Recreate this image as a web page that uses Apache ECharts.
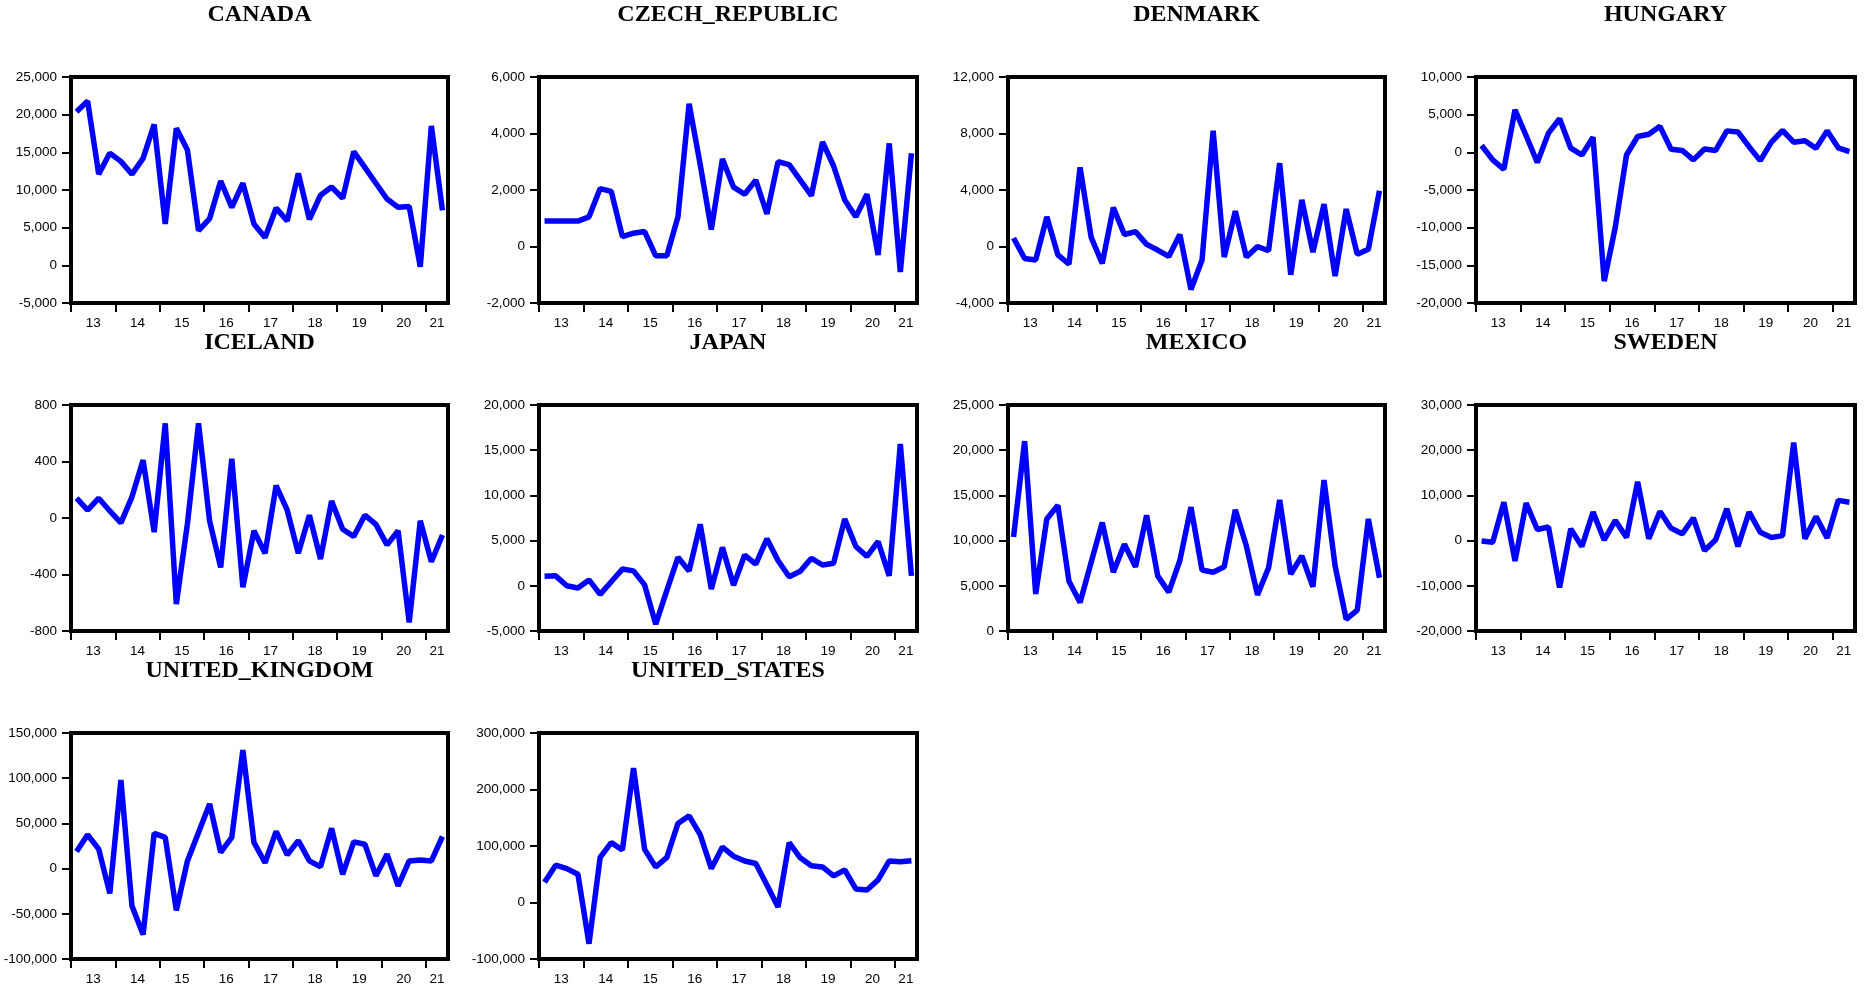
<!DOCTYPE html>
<html>
<head>
<meta charset="utf-8">
<script src="https://cdn.jsdelivr.net/npm/echarts@6/dist/echarts.min.js"></script>
<style>
html,body{margin:0;padding:0;background:#fff;}
#chart{width:1865px;height:987px;}
</style>
</head>
<body>
<div id="chart"></div>
<script>
// ---- Data: quarterly observations 2013Q1 .. 2021Q2 ----
const yearLabels = ['13','14','15','16','17','18','19','20','21'];
const panelNames = ['CANADA','CZECH_REPUBLIC','DENMARK','HUNGARY','ICELAND','JAPAN','MEXICO','SWEDEN','UNITED_KINGDOM','UNITED_STATES'];

const canada = [20400, 21800, 12100, 14900, 13800, 12100, 14200, 18700, 5500, 18200, 15300, 4600, 6200, 11200, 7700, 10900, 5500, 3700, 7600, 5900, 12200, 6100, 9300, 10400, 8900, 15100, 13000, 10900, 8800, 7700, 7800, -200, 18500, 7300];
const czechRepublic = [900, 900, 900, 900, 1050, 2050, 1950, 350, 470, 530, -330, -330, 1050, 5050, 2900, 600, 3100, 2100, 1850, 2350, 1150, 3000, 2900, 2350, 1800, 3700, 2850, 1650, 1050, 1850, -300, 3650, -900, 3300];
const denmark = [600, -850, -950, 2100, -600, -1250, 5600, 650, -1200, 2750, 850, 1050, 150, -250, -700, 850, -3050, -950, 8200, -750, 2500, -750, 0, -300, 5900, -2000, 3300, -400, 3000, -2100, 2650, -550, -200, 3950];
const hungary = [900, -1000, -2250, 5650, 2200, -1350, 2550, 4450, 550, -350, 2000, -17100, -9900, -350, 2100, 2400, 3450, 400, 250, -1000, 450, 250, 2850, 2700, 750, -1100, 1350, 2900, 1350, 1550, 550, 2850, 600, 100];
const iceland = [140, 55, 140, 50, -35, 150, 410, -100, 670, -610, -40, 670, -20, -350, 420, -490, -90, -250, 230, 55, -250, 20, -290, 120, -80, -130, 20, -45, -190, -90, -740, -20, -310, -120];
const japan = [1050, 1100, 0, -250, 650, -950, 450, 1850, 1650, 100, -4250, -500, 3150, 1650, 6800, -350, 4250, 50, 3400, 2400, 5200, 2800, 1000, 1600, 3050, 2300, 2500, 7400, 4350, 3250, 4900, 1100, 15700, 1100];
const mexico = [10400, 21000, 4100, 12400, 13900, 5500, 3150, 7600, 12000, 6500, 9600, 7100, 12800, 6100, 4300, 7800, 13700, 6750, 6500, 7100, 13400, 9400, 4000, 7000, 14500, 6300, 8300, 4900, 16700, 7200, 1300, 2300, 12400, 5900];
const sweden = [-100, -350, 8500, -4500, 8300, 2450, 3000, -10400, 2600, -1300, 6300, 150, 4450, 700, 13000, 400, 6450, 2750, 1500, 5000, -2200, 200, 7050, -1300, 6300, 1850, 700, 1100, 21700, 400, 5300, 600, 8900, 8500];
const unitedKingdom = [19000, 37400, 21500, -27400, 98000, -41500, -73000, 39000, 34500, -46300, 8500, 40000, 71500, 18000, 34500, 131000, 29000, 6500, 41100, 15200, 31000, 8500, 2000, 44500, -6300, 29600, 27000, -8000, 16000, -19000, 8500, 9600, 8500, 35500];
const unitedStates = [36000, 66000, 60000, 50000, -73000, 80000, 106000, 93000, 238000, 94000, 63000, 80000, 140000, 153500, 120000, 60000, 98000, 82000, 73500, 69000, 31000, -8000, 106000, 79000, 65000, 63000, 47000, 57500, 24000, 22000, 40000, 73500, 72000, 74000];

// y-axis ranges (min, max, interval)
const yMins = [-5000, -2000, -4000, -20000, -800, -5000, 0, -20000, -100000, -100000];
const yMaxs = [25000, 6000, 12000, 10000, 800, 20000, 25000, 30000, 150000, 300000];
const yIntervals = [5000, 2000, 4000, 5000, 400, 5000, 5000, 10000, 50000, 100000];

const seriesValues = [canada, czechRepublic, denmark, hungary, iceland, japan, mexico, sweden, unitedKingdom, unitedStates];

// ---- Layout ----
const colLeft = [71, 539, 1008, 1476];
const colWidth = [377, 378, 377, 379];
const rowTop = [77, 405, 733];
const rowTitleY = [15, 343, 671];
const plotH = 226;

const nQ = seriesValues[0].length;
const tickVals = yearLabels.map((y, i) => i * 4);
const labelVals = yearLabels.map((y, i) => (i < yearLabels.length - 1 ? i * 4 + 2 : i * 4 + 1));

const fmt = v => Number(v).toLocaleString('en-US');

const grids = [], xAxes = [], yAxes = [], series = [], graphics = [];
seriesValues.forEach((vals, i) => {
  const r = Math.floor(i / 4), c = i % 4;
  grids.push({
    left: colLeft[c], top: rowTop[r], width: colWidth[c], height: plotH,
    show: true, borderColor: '#000', borderWidth: 4, backgroundColor: 'transparent'
  });
  xAxes.push({
    type: 'value', gridIndex: i, min: 0, max: nQ, position: 'bottom',
    axisLine: { show: false, onZero: false }, splitLine: { show: false },
    axisTick: { show: true, customValues: tickVals, length: 9, lineStyle: { color: '#000', width: 2 } },
    axisLabel: {
      customValues: labelVals, margin: 13, color: '#000', fontSize: 13.5,
      fontFamily: 'Liberation Sans', formatter: v => yearLabels[Math.floor(v / 4)]
    }
  });
  yAxes.push({
    type: 'value', gridIndex: i, min: yMins[i], max: yMaxs[i], interval: yIntervals[i], position: 'left',
    axisLine: { show: false, onZero: false }, splitLine: { show: false },
    axisTick: { show: true, length: 9, lineStyle: { color: '#000', width: 2 } },
    axisLabel: { margin: 14, color: '#000', fontSize: 13.5, fontFamily: 'Liberation Sans', formatter: fmt }
  });
  series.push({
    type: 'line', xAxisIndex: i, yAxisIndex: i, symbol: 'none',
    lineStyle: { color: '#0000FF', width: 5.5 },
    data: vals.map((v, k) => [k + 0.5, v])
  });
  graphics.push({
    type: 'text', x: colLeft[c] + colWidth[c] / 2, y: rowTitleY[r],
    style: {
      text: panelNames[i], align: 'center', verticalAlign: 'middle',
      font: 'bold 24px "Liberation Serif"', fill: '#000'
    }
  });
});

const chart = echarts.init(document.getElementById('chart'), null, { renderer: 'canvas' });
chart.setOption({
  backgroundColor: '#fff',
  animation: false,
  grid: grids,
  xAxis: xAxes,
  yAxis: yAxes,
  series: series,
  graphic: graphics
});
</script>
</body>
</html>
